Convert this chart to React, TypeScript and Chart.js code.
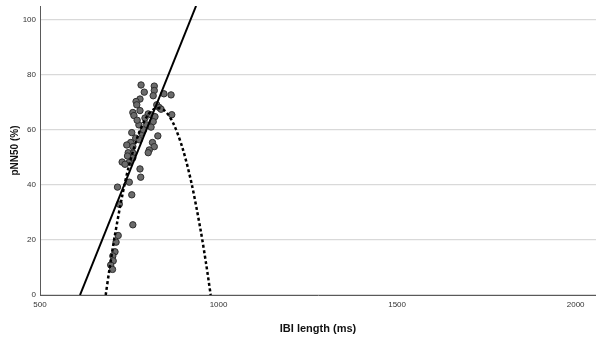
import React, { useEffect, useRef } from "react";
import { Chart, registerables } from "chart.js";

Chart.register(...registerables);

// Scatter data: IBI length (ms) vs pNN50 (%)
const ibiMs = [
  783, 820, 820, 792, 847, 867, 817, 780, 769, 771,
  827, 834, 839, 780, 760, 763, 803, 811, 869, 822,
  794, 817, 777, 799, 811, 757, 785, 768, 830, 778,
  754, 743, 760, 815, 820, 806, 803, 747, 761, 730,
  749, 780, 782, 717, 750, 757, 722, 760, 719, 713,
  710, 704, 705, 698, 703, 738, 760, 790, 772, 745,
];
const pnn50 = [
  76.3, 75.9, 74.3, 73.7, 73.1, 72.7, 72.4, 71.2, 70.3, 69.1,
  69.1, 68.1, 67.5, 67.0, 66.3, 65.2, 65.8, 65.5, 65.5, 64.8,
  64.3, 63.0, 61.8, 61.8, 61.0, 59.0, 58.8, 57.0, 57.8, 56.4,
  55.4, 54.5, 53.9, 55.4, 53.9, 52.7, 51.7, 51.7, 51.5, 48.3,
  48.1, 45.8, 42.8, 39.2, 41.0, 36.4, 33.0, 25.5, 21.6, 19.2,
  15.7, 14.2, 12.4, 10.9, 9.3, 47.5, 49.8, 60.0, 63.5, 50.5,
];

// Linear fit line endpoints
const linearFitX = [612, 937];
const linearFitY = [0, 105];

// Quadratic fit line
const quadFitX = [684, 695, 710, 730, 750, 775, 800, 825, 850, 875, 900, 925, 950, 965, 978];
const quadFitY = [0, 9.8, 21.9, 35.9, 47.4, 58.1, 65.0, 67.9, 66.9, 61.9, 53.0, 40.2, 23.4, 11.5, 0];

const xTicks = [500, 1000, 1500, 2000];
const yTicks = [0, 20, 40, 60, 80, 100];

const FONT = "'Liberation Sans', Arial, sans-serif";

export default function App() {
  const canvasRef = useRef<HTMLCanvasElement | null>(null);

  useEffect(() => {
    const canvas = canvasRef.current;
    if (!canvas) return;
    const chart = new Chart(canvas, {
      type: "scatter",
      data: {
        datasets: [
          {
            type: "line",
            data: linearFitX.map((x, i) => ({ x, y: linearFitY[i] })),
            borderColor: "#000000",
            borderWidth: 2,
            pointRadius: 0,
            pointHoverRadius: 0,
            fill: false,
            order: 0,
          },
          {
            type: "line",
            data: quadFitX.map((x, i) => ({ x, y: quadFitY[i] })),
            borderColor: "#000000",
            borderWidth: 2.5,
            borderDash: [3, 2.5],
            pointRadius: 0,
            pointHoverRadius: 0,
            fill: false,
            tension: 0.3,
            order: 0,
          },
          {
            type: "scatter",
            data: ibiMs.map((x, i) => ({ x, y: pnn50[i] })),
            backgroundColor: "#6b6b6b",
            borderColor: "#2e2e2e",
            borderWidth: 1,
            pointRadius: 3.2,
            pointHoverRadius: 3.2,
            order: 1,
          },
        ],
      } as any,
      options: {
        animation: false,
        responsive: false,
        maintainAspectRatio: false,
        layout: { autoPadding: false, padding: { top: 6, right: 0, left: 0, bottom: 0 } },
        plugins: {
          legend: { display: false },
          tooltip: { enabled: false },
        },
        scales: {
          x: {
            type: "linear",
            min: 500,
            max: 2057,
            afterBuildTicks: (axis: any) => {
              axis.ticks = xTicks.map((v) => ({ value: v }));
            },
            afterFit: (scale: any) => {
              scale.height = 43;
              scale.paddingRight = 0;
              scale.paddingLeft = 0;
            },
            grid: { display: false, drawTicks: false },
            border: { display: true, color: "#5a5a5a", width: 1 },
            ticks: {
              padding: 5,
              color: "#333333",
              font: { family: FONT, size: 8 },
              maxRotation: 0,
              autoSkip: false,
              callback: (v: any) => String(v),
            },
            title: {
              display: true,
              text: "IBI length (ms)",
              color: "#111111",
              font: { family: FONT, size: 11, weight: "bold" },
              padding: { top: 0, bottom: 2 },
            },
          },
          y: {
            type: "linear",
            min: 0,
            max: 105,
            afterBuildTicks: (axis: any) => {
              axis.ticks = yTicks.map((v) => ({ value: v }));
            },
            afterFit: (scale: any) => {
              scale.width = 40;
              scale.paddingTop = 0;
              scale.paddingBottom = 0;
            },
            grid: { display: true, drawTicks: false, color: "#d9d9d9", lineWidth: 1.3 },
            border: { display: true, color: "#5a5a5a", width: 1 },
            ticks: {
              padding: 4,
              color: "#333333",
              font: { family: FONT, size: 8 },
              autoSkip: false,
              callback: (v: any) => String(v),
            },
            title: {
              display: true,
              text: "pNN50 (%)",
              color: "#111111",
              font: { family: FONT, size: 10, weight: "bold" },
              padding: { top: 9, bottom: 0 },
            },
          },
        },
      } as any,
    });
    return () => chart.destroy();
  }, []);

  return (
    <div style={{ position: "fixed", left: 0, top: 0, width: 596, height: 338, background: "#ffffff" }}>
      <canvas ref={canvasRef} width={596} height={338} style={{ width: 596, height: 338 }} />
    </div>
  );
}
